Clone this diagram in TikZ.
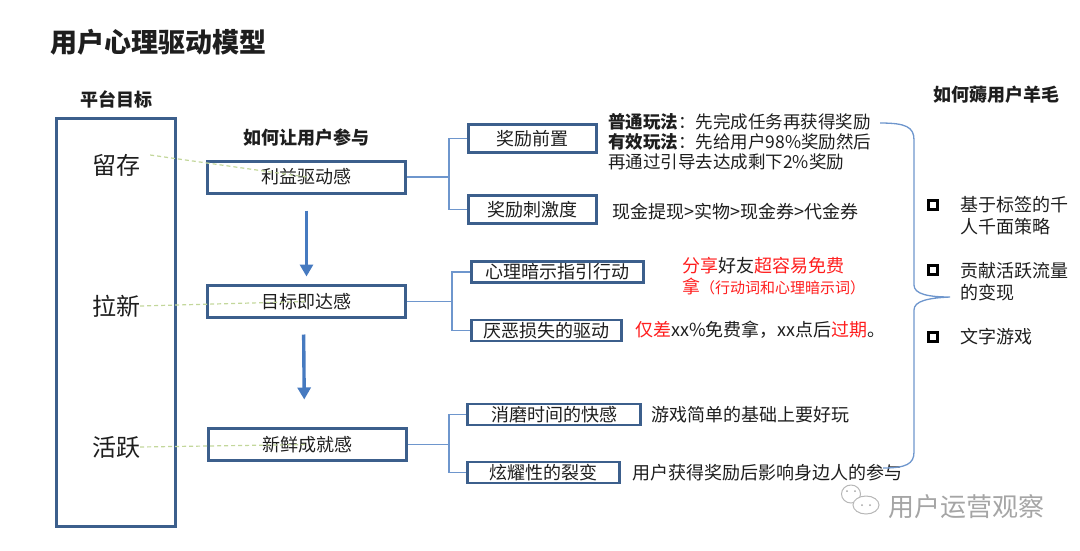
\documentclass[tikz,border=0pt]{standalone}
\usepackage{fontspec}
\setmainfont{Noto Sans CJK SC}
\usetikzlibrary{arrows.meta}

\definecolor{boxblue}{RGB}{60,95,140}
\definecolor{linkblue}{RGB}{110,150,205}
\definecolor{flowblue}{RGB}{70,122,192}
\definecolor{guidegreen}{RGB}{195,215,155}
\definecolor{hotred}{RGB}{255,30,30}
\definecolor{inkgray}{RGB}{30,30,30}
\definecolor{markgray}{RGB}{165,165,165}
\newcommand{\hot}[1]{{\color{hotred}#1}}

\begin{document}
\begin{tikzpicture}[x=1pt,y=-1pt,
	every node/.style={inner sep=0pt,text=inkgray},
	txt/.style={font=\fontsize{18}{22}\selectfont},
	head/.style={font=\fontsize{18}{22}\selectfont\bfseries},
	goal/.style={font=\fontsize{24}{28}\selectfont},
	mainbox/.style={draw=boxblue,line width=3pt,minimum width=198pt,minimum height=32pt,txt},
	subbox/.style={draw=boxblue,line width=2.6pt,minimum height=21pt,txt},
	conn/.style={draw=linkblue,line width=1.3pt},
	flow/.style={draw=flowblue,line width=3.4pt,-{Triangle[length=12pt,width=13pt]}},
	guide/.style={draw=guidegreen,line width=1.2pt,dash pattern=on 4pt off 3pt},
	tick/.style={draw=black,line width=2.6pt,minimum size=8.5pt}]
			\useasboundingbox (0,0) rectangle (1080,550);
			\node[font=\fontsize{27}{30}\selectfont\bfseries,anchor=west] (title) at (50,42) {用户心理驱动模型};
			
			% platform goals
			\node[head] (colA) at (116,99) {平台目标};
			\draw[boxblue,line width=3pt] (56.5,118.5) rectangle (175.5,526);
			\node[goal] (g1) at (116,165) {留存};
			\node[goal] (g2) at (116,306) {拉新};
			\node[goal] (g3) at (116,447) {活跃};
			
			% how users take part
			\node[head] (colB) at (306,138) {如何让用户参与};
			\node[mainbox] (m1) at (306.5,177) {利益驱动感};
			\node[mainbox] (m2) at (306.5,301.5) {目标即达感};
			\node[mainbox] (m3) at (307.5,444.5) {新鲜成就感};
			\draw[guide] (g1.east) ++(10,-10) -- (m1.center);
			\draw[guide] (g2.east) -- (m2.center);
			\draw[guide] (g3.east) -- (m3.center);
			\draw[flow,shorten <=16pt,shorten >=7.5pt] (m1.south) -- (m2.north);
			\draw[flow,shorten <=15.5pt,shorten >=27.5pt] ([xshift=-3pt]m2.south) -- ([xshift=-3pt]m3.north);
			
			% sub drivers
			\node[subbox,minimum width=128pt,minimum height=28pt] (s11) at (532.5,138.5) {奖励前置};
			\node[subbox,minimum width=128pt,minimum height=28pt] (s12) at (532.5,209.5) {奖励刺激度};
			\node[subbox,minimum width=172pt] (s21) at (557.5,272) {心理暗示指引行动};
			\node[subbox,minimum width=150pt] (s22) at (546.5,330.5) {厌恶损失的驱动};
			\node[subbox,minimum width=173pt] (s31) at (554,414.5) {消磨时间的快感};
			\node[subbox,minimum width=152pt] (s32) at (543.5,472.5) {炫耀性的裂变};
			\coordinate (k1) at (449,177); \coordinate (k2) at (452,301.5); \coordinate (k3) at (449,444.5);
			\draw[conn] (m1.east) -- (k1); \draw[conn] (s11.west) -| (k1) |- (s12.west);
			\draw[conn] (m2.east) -- (k2); \draw[conn] (s21.west) -| (k2) |- (s22.west);
			\draw[conn] (m3.east) -- (k3); \draw[conn] (s31.west) -| (k3) |- (s32.west);
			
			% remarks
			\node[font=\fontsize{17.5}{20}\selectfont,anchor=base west,align=left] (t11) at (608,168.5) {\textbf{普通玩法}：先完成任务再获得奖励\\\textbf{有效玩法}：先给用户98\%奖励然后\\再通过引导去达成剩下2\%奖励};
			\node[txt,anchor=west] (t12) at (612,212) {现金提现>实物>现金券>代金券};
			\node[font=\fontsize{18}{21}\selectfont,anchor=base west,align=left] (t21) at (682,293.5) {\hot{分享}好友\hot{超容易免费}\\\hot{拿{\fontsize{15}{21}\selectfont（行动词和心理暗示词）}}};
			\node[txt,anchor=west] (t22) at (635,330) {\hot{仅差}xx\%免费拿，xx点后\hot{过期}。};
			\node[txt,anchor=west] (t31) at (651,415) {游戏简单的基础上要好玩};
			\node[txt,anchor=west] (t32) at (632,473) {用户获得奖励后影响身边人的参与};
			
			% brace and monetisation
			\draw[conn] (880,123) .. controls (906,123) and (914,127) .. (914,140) -- (914,285) .. controls (914,294) and (928,297) .. (950,297) .. controls (928,298) and (914,301) .. (914,310) -- (914,452) .. controls (914,464) and (906,468) .. (883,468);
			\node[head] (colC) at (996,95) {如何薅用户羊毛};
			\foreach \y/\n in {205/1,270/2,337/3} \node[tick] (q\n) at (933,\y) {};
			\node[txt,anchor=base west,align=left] (r1) at (960,233.5) {基于标签的千\\人千面策略};
			\node[txt,anchor=base west,align=left] (r2) at (960,299.5) {贡献活跃流量\\的变现};
			\node[txt,anchor=west] (r3) at (960,337) {文字游戏};
			
			% watermark
			\draw[markgray!80,line width=1pt] (851,494) ellipse (9.5 and 9);
			\draw[markgray!80,line width=1pt,fill=white] (866,505) ellipse (13 and 9);
			\foreach \p in {(847,491),(855,491),(862,505),(870,505)} \fill[markgray] \p circle (1);
			\node[font=\fontsize{26}{30}\selectfont,text=markgray,anchor=west] (mark) at (888,507) {用户运营观察};
\end{tikzpicture}
\end{document}
